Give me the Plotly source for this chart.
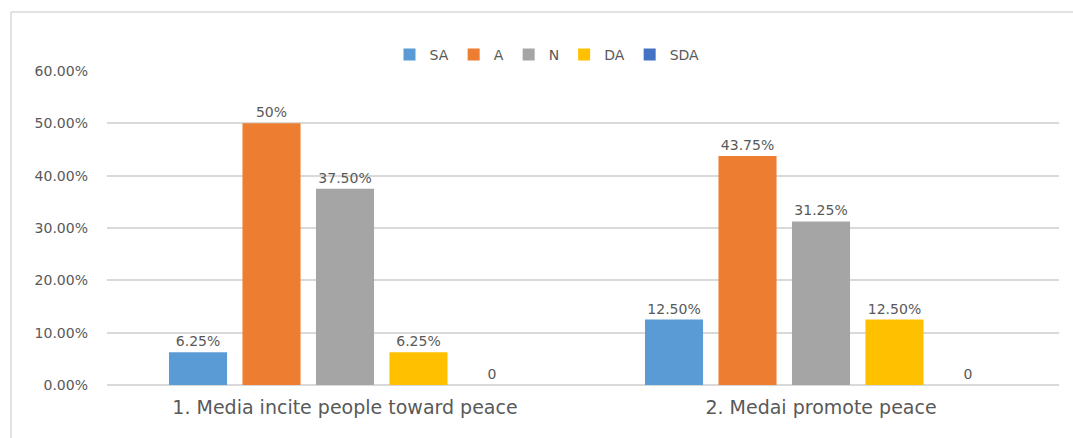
import plotly.graph_objects as go

categories = ["1. Media incite people toward peace", "2. Medai promote peace"]
series_names = ["SA", "A", "N", "DA", "SDA"]
values = {
    "SA": [0.0625, 0.125],
    "A": [0.50, 0.4375],
    "N": [0.375, 0.3125],
    "DA": [0.0625, 0.125],
    "SDA": [0.0, 0.0],
}
labels = {
    "SA": ["6.25%", "12.50%"],
    "A": ["50%", "43.75%"],
    "N": ["37.50%", "31.25%"],
    "DA": ["6.25%", "12.50%"],
    "SDA": ["0", "0"],
}
colors = {"SA": "#5B9BD5", "A": "#ED7D31", "N": "#A5A5A5", "DA": "#FFC000", "SDA": "#4472C4"}
y_ticks = [0, 0.1, 0.2, 0.3, 0.4, 0.5, 0.6]
y_ticklabels = ["0.00%", "10.00%", "20.00%", "30.00%", "40.00%", "50.00%", "60.00%"]

FONT = "DejaVu Sans, Verdana, sans-serif"
GRAY = "#595959"

fig = go.Figure()
for s in series_names:
    fig.add_trace(go.Bar(
        name=s, x=categories, y=values[s],
        marker=dict(color=colors[s], line=dict(width=0)),
        text=labels[s], textposition="outside", cliponaxis=False,
        textfont=dict(size=14, color=GRAY, family=FONT),
    ))

W, H = 1073, 438
L, R, T, B = 107, 14, 71, 53
pw, ph = W - L - R, H - T - B

def px(x):
    return (x - L) / pw

def py(y):
    return (H - B - y) / ph

fig.add_shape(type="line", xref="paper", yref="paper", x0=px(11), x1=px(1080), y0=py(12), y1=py(12),
              line=dict(color="#D9D9D9", width=1.5))
fig.add_shape(type="line", xref="paper", yref="paper", x0=px(11), x1=px(11), y0=py(12), y1=py(445),
              line=dict(color="#D9D9D9", width=1.5))

fig.update_layout(
    width=W, height=H,
    margin=dict(l=L, r=R, t=T, b=B),
    paper_bgcolor="white", plot_bgcolor="white",
    barmode="group", bargap=0.228, bargroupgap=0.21,
    font=dict(family=FONT, color=GRAY),
    legend=dict(orientation="h", x=px(547), xanchor="center", y=py(55), yanchor="middle",
                font=dict(size=14, color=GRAY, family=FONT), traceorder="normal",
                itemwidth=30, itemclick=False),
    xaxis=dict(showline=False, ticks="", tickfont=dict(size=19, color=GRAY, family=FONT),
               ticklabelstandoff=9),
    yaxis=dict(range=[0, 0.6], tickvals=y_ticks, ticktext=y_ticklabels,
               showgrid=True, gridcolor="#D9D9D9", gridwidth=1.5,
               zeroline=True, zerolinecolor="#D9D9D9", zerolinewidth=1.5,
               tickfont=dict(size=14, color=GRAY, family=FONT), ticklabelstandoff=18),
)
fig.write_html("out.html")
